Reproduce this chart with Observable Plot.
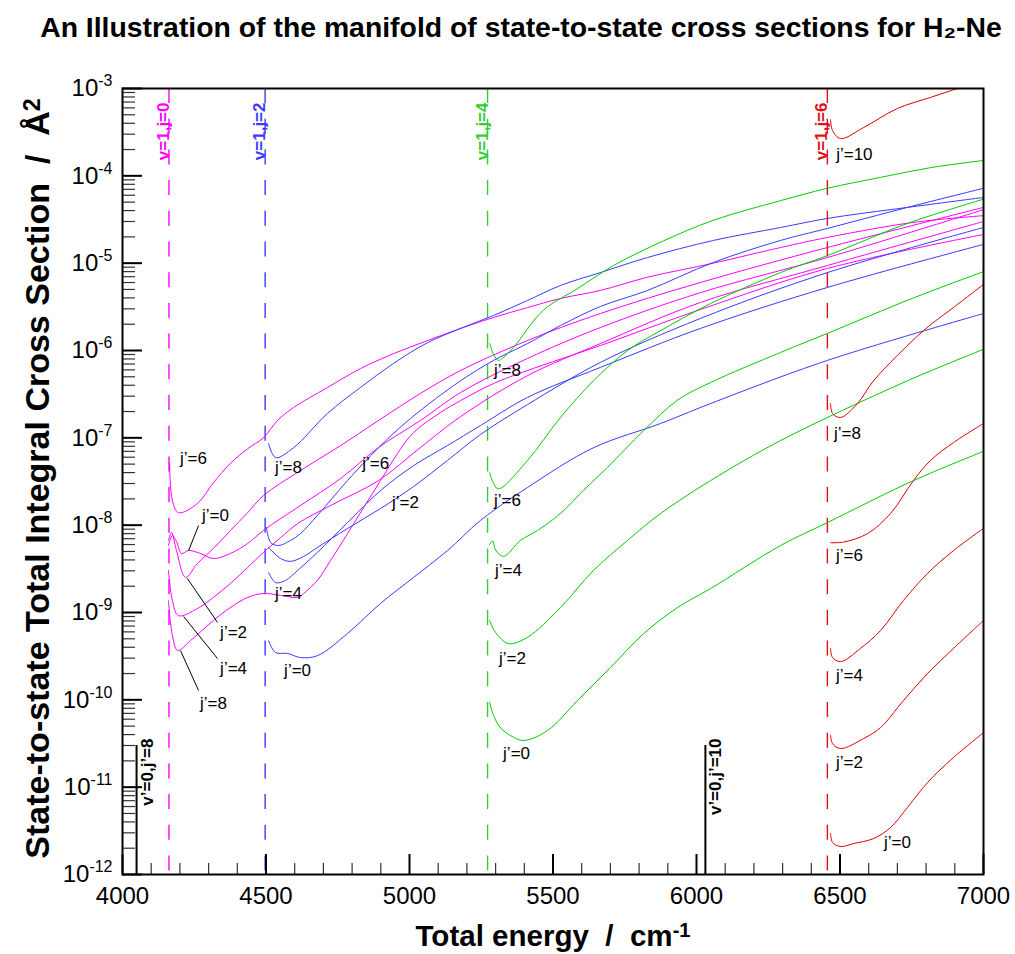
<!DOCTYPE html>
<html><head><meta charset="utf-8">
<script src="https://cdn.jsdelivr.net/npm/d3@7"></script>
<script src="https://cdn.jsdelivr.net/npm/@observablehq/plot@0.6"></script>
<style>
html,body{margin:0;padding:0;background:#fff;}
svg{display:block}
</style></head>
<body>
<svg id="title" width="1015" height="60"><text id="titleText" x="521" y="37" text-anchor="middle" font-family="'Liberation Sans Narrow', 'Liberation Sans', Arial, sans-serif" font-weight="bold" font-size="30">An Illustration of the manifold of state-to-state cross sections for H₂-Ne</text></svg>
<div id="chart"></div>
<script>
// ---- axis ticks ----
const xMajor = [4000, 4500, 5000, 5500, 6000, 6500, 7000];
const yMajor = [1e-12, 1e-11, 1e-10, 1e-9, 1e-8, 1e-7, 1e-6, 1e-5, 1e-4, 1e-3];
const xMinor = d3.range(4100, 7000, 100).filter(v => v % 500 !== 0);
const yMinor = [];
for (let k = -12; k < -3; k++) for (let m = 2; m <= 9; m++) yMinor.push(m * Math.pow(10, k));

// ---- thresholds ----
const thresholdE = [4162, 4497, 5272, 6456];
const thresholdLabel = ["v=1,j=0", "v=1,j=2", "v=1,j=4", "v=1,j=6"];
const thresholdColor = ["#ff00ff", "#3a3aff", "#33cc33", "#dd1111"];
const groundE = [4049, 6031];
const groundTop = [3e-11, 3e-11];
const groundLabel = ["v\u2019=0,j\u2019=8", "v\u2019=0,j\u2019=10"];

// ---- curves: [energy cm-1, cross section A^2] ----
// v=1,j=0 (magenta)
const m_j0 = [[4160,5.85e-9],[4174,7.6e-9],[4188,6.5e-9],[4206,4.74e-9],[4230,5.13e-9],[4272,4.74e-9],[4317,4.15e-9],[4376,4.74e-9],[4436,6.17e-9],[4491,8.69e-9],[4620,1.68e-8],[4760,3.42e-8],[4892,7.75e-8],[5038,1.58e-7],[5178,3.3e-7],[5411,8.1e-7],[5665,1.83e-6],[6014,4.6e-6],[6456,1.16e-5],[7000,4.1e-5]];
const m_j2 = [[4160,6.68e-9],[4171,8.25e-9],[4188,5.13e-9],[4220,2.52e-9],[4261,3.64e-9],[4317,5.41e-9],[4376,8.69e-9],[4436,1.39e-8],[4491,2.18e-8],[4620,4.22e-8],[4760,8.15e-8],[4892,1.58e-7],[5038,3.22e-7],[5178,5.9e-7],[5411,1.3e-6],[5665,2.65e-6],[6014,6.01e-6],[6456,1.51e-5],[7000,4.35e-5]];
const m_j4 = [[4160,3.03e-9],[4174,1.37e-9],[4195,9.2e-10],[4261,1.11e-9],[4317,1.49e-9],[4376,2.15e-9],[4436,3.28e-9],[4491,4.87e-9],[4551,7.2e-9],[4610,1.04e-8],[4725,1.68e-8],[4892,3.24e-8],[5038,7.75e-8],[5178,1.75e-7],[5411,5.15e-7],[5665,1.2e-6],[6014,3.55e-6],[6456,9.4e-6],[7000,3.0e-5]];
const m_j6 = [[4164,5.2e-8],[4174,1.9e-8],[4195,1.39e-8],[4261,1.77e-8],[4317,3.07e-8],[4376,5.1e-8],[4436,7.5e-8],[4491,1.0e-7],[4540,1.58e-7],[4596,2.22e-7],[4714,3.77e-7],[4829,6.2e-7],[4944,9.2e-7],[5063,1.3e-6],[5178,1.79e-6],[5293,2.39e-6],[5411,3.1e-6],[5526,3.94e-6],[5665,4.87e-6],[5829,6.9e-6],[6059,1.0e-5],[6293,1.51e-5],[6456,1.97e-5],[6756,2.93e-5],[7000,3.5e-5]];
const m_j8 = [[4160,1.37e-9],[4174,5.45e-10],[4192,3.67e-10],[4237,4.77e-10],[4317,8.1e-10],[4376,1.14e-9],[4436,1.49e-9],[4491,1.65e-9],[4551,1.57e-9],[4610,1.49e-9],[4631,1.65e-9],[4679,2.33e-9],[4725,3.94e-9],[4784,8.0e-9],[4840,1.59e-8],[4899,3.24e-8],[4958,6.6e-8],[5014,1.15e-7],[5108,1.95e-7],[5178,2.67e-7],[5293,4.19e-7],[5411,5.9e-7],[5665,1.14e-6],[6014,2.95e-6],[6456,8.69e-6],[7000,2.13e-5]];
// v=1,j=2 (blue)
const b_j0 = [[4509,4.77e-10],[4533,3.48e-10],[4575,3.4e-10],[4620,3.05e-10],[4679,3.2e-10],[4784,5.75e-10],[4899,1.27e-9],[5014,2.52e-9],[5132,5.1e-9],[5247,1.13e-8],[5411,2.7e-8],[5641,7.7e-8],[5875,1.46e-7],[6049,2.47e-7],[6456,7.7e-7],[7000,2.65e-6]];
const b_j2 = [[4509,5.55e-9],[4551,4.15e-9],[4585,3.85e-9],[4631,4.38e-9],[4679,5.55e-9],[4784,9.16e-9],[4899,1.55e-8],[5014,2.77e-8],[5132,5.5e-8],[5247,1.09e-7],[5411,2.4e-7],[5665,7.3e-7],[6014,2.33e-6],[6456,7.8e-6],[7000,2.56e-5]];
const b_j4 = [[4509,2.87e-9],[4533,2.2e-9],[4568,2.33e-9],[4610,3.03e-9],[4679,4.87e-9],[4784,1.07e-8],[4899,2.49e-8],[5014,4.8e-8],[5132,8.15e-8],[5247,1.38e-7],[5411,2.9e-7],[5665,6.4e-7],[6014,1.79e-6],[6456,5.27e-6],[7000,1.64e-5]];
const b_j6 = [[4502,9.4e-9],[4516,6.33e-9],[4544,5.85e-9],[4585,6.68e-9],[4620,8.0e-9],[4679,1.29e-8],[4784,3.24e-8],[4892,7.7e-8],[5003,1.66e-7],[5178,4.5e-7],[5293,7.7e-7],[5411,1.2e-6],[5526,1.93e-6],[5665,3.19e-6],[5829,4.87e-6],[6059,1.02e-5],[6293,1.82e-5],[6456,2.5e-5],[6735,4.35e-5],[7000,7.2e-5]];
const b_j8 = [[4509,8.6e-8],[4533,5.95e-8],[4596,7.7e-8],[4714,1.9e-7],[4829,3.77e-7],[4944,7.1e-7],[5063,1.23e-6],[5178,1.79e-6],[5293,2.52e-6],[5411,3.74e-6],[5526,5.55e-6],[5665,7.8e-6],[5829,1.16e-5],[6059,1.82e-5],[6293,2.56e-5],[6456,3.25e-5],[6735,4.35e-5],[7000,5.65e-5]];
// v=1,j=4 (green)
const g_j0 = [[5279,9.4e-11],[5293,6.6e-11],[5317,4.8e-11],[5352,3.9e-11],[5397,3.42e-11],[5481,4.45e-11],[5585,9.8e-11],[5700,2.34e-10],[5815,5.7e-10],[5934,1.14e-9],[6049,1.88e-9],[6293,5.85e-9],[6456,1.07e-8],[6756,3.24e-8],[7000,7.0e-8]];
const g_j2 = [[5279,8.1e-10],[5300,5.9e-10],[5345,4.4e-10],[5411,5.2e-10],[5526,1.14e-9],[5641,3.03e-9],[5760,6.7e-9],[5875,1.36e-8],[6049,3.24e-8],[6293,9.3e-8],[6735,4.5e-7],[7000,1.03e-6]];
const g_j4 = [[5279,6.0e-9],[5290,6.6e-9],[5300,5.2e-9],[5328,4.4e-9],[5387,6.7e-9],[5446,8.7e-9],[5526,1.36e-8],[5606,2.5e-8],[5690,4.6e-8],[5815,1.2e-7],[5934,2.7e-7],[6049,4.3e-7],[6293,9.5e-7],[6456,1.57e-6],[6756,4.0e-6],[7000,8.0e-6]];
const g_j6 = [[5279,4.0e-8],[5293,3.0e-8],[5310,2.6e-8],[5411,5.5e-8],[5526,1.71e-7],[5641,4.5e-7],[5760,1.0e-6],[5875,1.69e-6],[6049,3.45e-6],[6293,7.8e-6],[6456,1.22e-5],[6735,2.85e-5],[7000,5.4e-5]];
const g_j8 = [[5280,1.2e-6],[5293,9.0e-7],[5310,7.7e-7],[5325,8.2e-7],[5362,1.08e-6],[5467,2.9e-6],[5585,5.1e-6],[5711,9.4e-6],[5885,1.8e-5],[6059,3.1e-5],[6293,5.2e-5],[6456,7.2e-5],[6641,9.6e-5],[6815,1.24e-4],[7000,1.5e-4]];
// v=1,j=6 (red)
const r_j0 = [[6467,2.95e-12],[6474,2.33e-12],[6502,2.09e-12],[6547,2.26e-12],[6617,2.58e-12],[6676,3.45e-12],[6735,5.85e-12],[6805,1.13e-11],[6895,2.18e-11],[7000,4.2e-11]];
const r_j2 = [[6467,3.9e-11],[6474,3.16e-11],[6502,2.77e-11],[6582,3.6e-11],[6641,4.8e-11],[6721,9.8e-11],[6805,2.0e-10],[6895,3.87e-10],[7000,8.1e-10]];
const r_j4 = [[6467,3.87e-10],[6474,3.05e-10],[6502,2.74e-10],[6571,3.87e-10],[6641,6.2e-10],[6721,1.37e-9],[6805,2.8e-9],[6895,5.1e-9],[7000,9.2e-9]];
const r_j6 = [[6467,6.3e-9],[6512,6.4e-9],[6596,8.0e-9],[6676,1.36e-8],[6756,3.24e-8],[6815,5.5e-8],[6895,8.8e-8],[7000,1.46e-7]];
const r_j8 = [[6467,2.47e-7],[6474,1.9e-7],[6502,1.71e-7],[6561,2.47e-7],[6617,4.5e-7],[6791,1.69e-6],[6895,3.1e-6],[7000,5.7e-6]];
const r_j10 = [[6467,4.4e-4],[6474,3.3e-4],[6502,2.67e-4],[6582,3.57e-4],[6700,5.9e-4],[6815,7.9e-4],[6909,1.0e-3],[7000,1.26e-3]];

// ---- j' labels ----
const labelE     = [4247, 4324, 4387, 4387, 4317, 4578, 4578, 4610, 4882, 4986, 5341, 5341, 5345, 5359, 5373, 6550, 6526, 6533, 6533, 6533, 6700];
const labelSigma = [5.8e-8, 1.29e-8, 5.9e-10, 2.28e-10, 9.0e-11, 4.57e-8, 1.65e-9, 2.17e-10, 5.1e-8, 1.81e-8, 5.9e-7, 1.91e-8, 3.03e-9, 2.97e-10, 2.43e-11, 1.75e-4, 1.12e-7, 4.5e-9, 1.9e-10, 1.91e-11, 2.33e-12];
const labelJ     = [6, 0, 2, 4, 8, 8, 4, 0, 6, 2, 8, 6, 4, 2, 0, 10, 8, 6, 4, 2, 0];
// leader lines for the magenta labels
const leaderE1 = [4265, 4331, 4331, 4265];
const leaderS1 = [9.9e-9, 7.7e-10, 2.97e-10, 1.28e-10];
const leaderE2 = [4230, 4226, 4213, 4202];
const leaderS2 = [5.1e-9, 2.45e-9, 9.0e-10, 3.67e-10];

// ---- build tables ----
const series = [
  ["#ff00ff", [m_j0, m_j2, m_j4, m_j6, m_j8]],
  ["#3a3aff", [b_j0, b_j2, b_j4, b_j6, b_j8]],
  ["#00cc00", [g_j0, g_j2, g_j4, g_j6, g_j8]],
  ["#e00000", [r_j0, r_j2, r_j4, r_j6, r_j8, r_j10]]
];
const rows = [];
series.forEach(([color, curves], si) => curves.forEach((pts, ci) =>
  pts.forEach(([E, s]) => rows.push({E, s, key: si + "-" + ci, color}))));
const thresholds = thresholdE.map((E, i) => ({E, label: thresholdLabel[i], color: thresholdColor[i]}));
const ground = groundE.map((E, i) => ({E, top: groundTop[i], label: groundLabel[i]}));
const labels = labelE.map((E, i) => ({E, s: labelSigma[i], text: "j\u2019=" + labelJ[i]}));
const leaders = leaderE1.map((E, i) => ({x1: E, y1: leaderS1[i], x2: leaderE2[i], y2: leaderS2[i]}));

const W = 1015, H = 894, mL = 122, mR = 32, mT = 28, mB = 80;
const fW = W - mL - mR, fH = H - mT - mB;
const font = "'Liberation Sans', Arial, sans-serif";

const svg = Plot.plot({
  width: W, height: H,
  marginLeft: mL, marginRight: mR, marginTop: mT, marginBottom: mB,
  style: {fontFamily: font, background: "white", color: "black"},
  x: {domain: [4000, 7000]},
  y: {type: "log", domain: [1e-12, 1e-3]},
  color: {type: "identity"},
  marks: [
    Plot.ruleX(thresholds, {x: "E", stroke: "color", strokeWidth: 1.4, strokeDasharray: "15,15.7"}),
    Plot.ruleX(ground, {x: "E", y1: 1e-12, y2: "top", stroke: "black", strokeWidth: 2}),
    Plot.line(rows, {x: "E", y: "s", z: "key", stroke: "color", strokeWidth: 1, curve: "catmull-rom", clip: true}),
    Plot.link(leaders, {x1: "x1", y1: "y1", x2: "x2", y2: "y2", stroke: "black", strokeWidth: 1}),
    Plot.text(labels, {x: "E", y: "s", text: "text", fontSize: 17, fill: "black"}),
    Plot.text(thresholds, {x: "E", text: "label", frameAnchor: "top", dy: 14, dx: -12, rotate: -90, textAnchor: "end", fill: "color", fontWeight: "bold", fontSize: 17}),
    Plot.text(ground, {x: "E", text: "label", frameAnchor: "bottom", dy: -136, dx: 16, rotate: -90, textAnchor: "end", fill: "black", fontWeight: "bold", fontSize: 17}),
    // inward ticks
    Plot.ruleX(xMajor, {x: d => d, insetTop: fH - 20, stroke: "black", strokeWidth: 2}),
    Plot.ruleX(xMinor, {x: d => d, insetTop: fH - 11, stroke: "#333", strokeWidth: 1.2}),
    Plot.ruleY(yMajor, {y: d => d, insetRight: fW - 20, stroke: "black", strokeWidth: 2}),
    Plot.ruleY(yMinor, {y: d => d, insetRight: fW - 13, stroke: "#333", strokeWidth: 1.2}),
    // tick labels
    Plot.axisX(xMajor, {tickSize: 0, tickPadding: 12, fontSize: 24, tickFormat: d => String(d), label: null}),
    Plot.axisY(yMajor, {tickSize: 0, tickPadding: 10, fontSize: 24, tickFormat: d => "10^" + Math.round(Math.log10(d)), label: null}),
    // axis titles
    Plot.text(["Total energy\u00a0\u00a0/\u00a0\u00a0cm^-1"], {text: d => d, frameAnchor: "bottom", dy: 71, textAnchor: "middle", fontSize: 28, fontWeight: "bold"}),
    Plot.text(["State-to-state Total Integral Cross Section\u00a0\u00a0/\u00a0\u00a0\u00c5^2"], {text: d => d, frameAnchor: "left", dx: -84, dy: -3, rotate: -90, textAnchor: "middle", lineAnchor: "middle", fontSize: 28, fontWeight: "bold"}),
    Plot.frame({stroke: "black", strokeWidth: 2})
  ]
});

// superscripts
let yTitle = null, xTitle = null;
d3.select(svg).selectAll("text").each(function () {
  const t = this.textContent;
  if (!t.includes("^")) return;
  const [base, sup] = t.split("^");
  const el = d3.select(this);
  el.text(null);
  el.append("tspan").text(base);
  if (base === "10") el.append("tspan").attr("font-size", 16).attr("dy", -10).text(sup);
  else el.append("tspan").attr("font-size", "0.68em").attr("dy", "-0.4em").text(sup);
  if (t.startsWith("State")) yTitle = this;
  if (t.startsWith("Total")) xTitle = this;
});

document.getElementById("chart").appendChild(svg);
// fit texts to the reference extents
function fit(el, target, base, max) {
  if (!el) return;
  el.setAttribute("font-size", base);
  const len = el.getComputedTextLength();
  if (len > 0) el.setAttribute("font-size", Math.min(max, base * target / len).toFixed(2));
}
fit(yTitle, 767, 28, 34);
fit(xTitle, 275, 28, 32);
fit(document.getElementById("titleText"), 962, 30, 30);
</script>
</body></html>
